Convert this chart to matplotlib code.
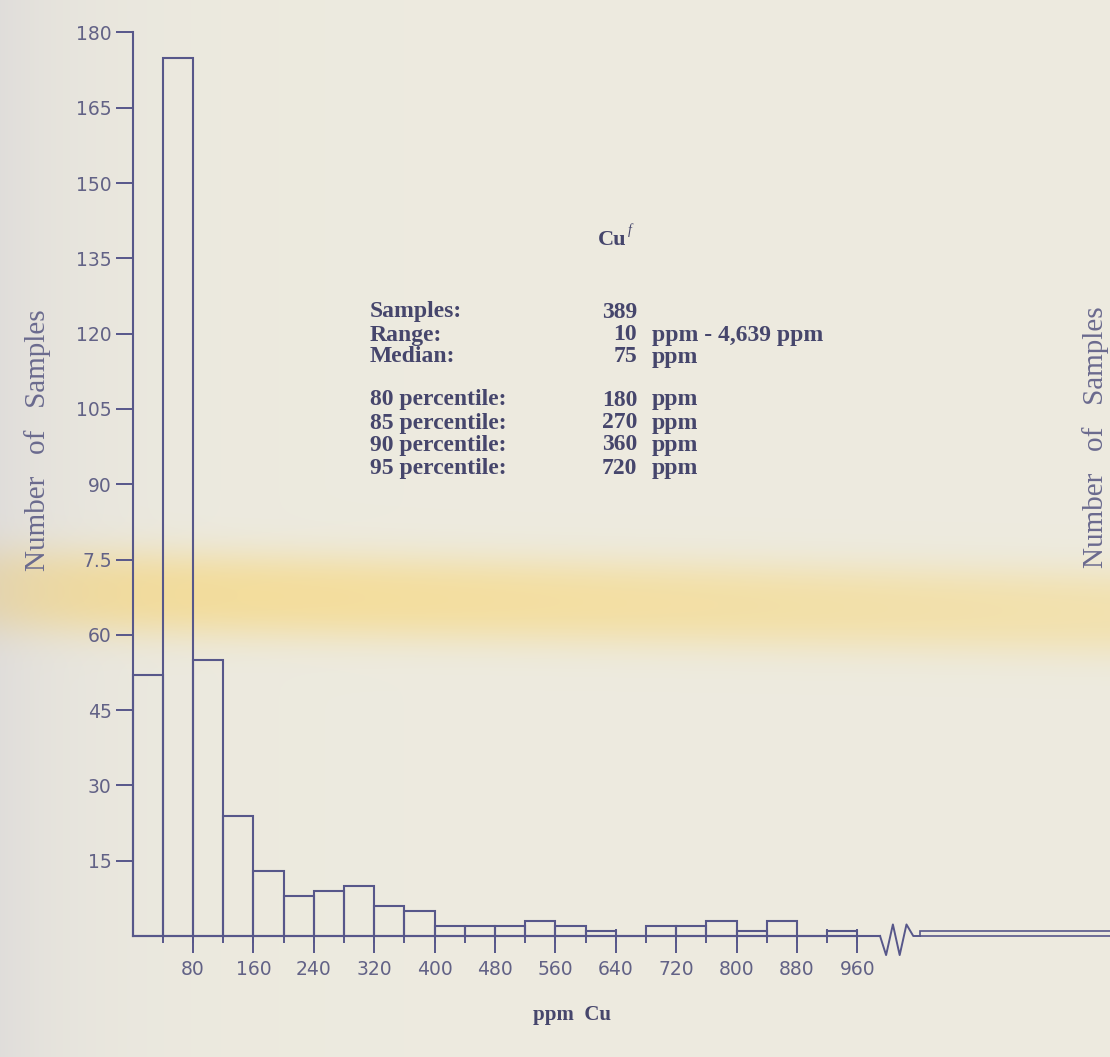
import numpy as np
import matplotlib
matplotlib.use("Agg")
import matplotlib.pyplot as plt

# ---------------- data ----------------
bin_left = list(range(0, 960, 40))          # left edges of 40-ppm bins
counts = [52, 175, 55, 24, 13, 8, 9, 10, 6, 5, 2, 2, 2, 3, 2, 1, 0, 2, 2, 3, 1, 3, 0, 1]
bin_width = 40
tail_left, tail_right, tail_count = 1043, 1300, 1   # values beyond the axis break

y_ticks = [15, 30, 45, 60, 75, 90, 105, 120, 135, 150, 165, 180]
y_labels = ["15", "30", "45", "60", "7.5", "90", "105", "120", "135", "150", "165", "180"]
x_major = [80, 160, 240, 320, 400, 480, 560, 640, 720, 800, 880, 960]
x_labels = [str(v) for v in x_major]
x_minor = list(range(40, 1000, 40))

stat_labels = ["Samples:", "Range:", "Median:", "80 percentile:", "85 percentile:",
               "90 percentile:", "95 percentile:"]
stat_values = ["389", "10", "75", "180", "270", "360", "720"]
stat_units = ["", "ppm - 4,639 ppm", "ppm", "ppm", "ppm", "ppm", "ppm"]

# ---------------- style ----------------
W, H = 1110, 1057
line_c = "#57578a"
tick_c = "#626286"
text_c = "#46466c"
cream = np.array([0.930, 0.920, 0.875])
yellow = np.array([0.965, 0.855, 0.54])
lav = np.array([0.80, 0.79, 0.83])

fig = plt.figure(figsize=(W / 100, H / 100), dpi=100, facecolor=cream)

def fx(px):
    return px / W

def fy(py):
    return 1 - py / H

# background paper with yellow stain band
bg = fig.add_axes([0, 0, 1, 1])
yy, xx = np.mgrid[0:H, 0:W]
centre = 590 + 0.02 * xx
band = np.exp(-np.abs((yy - centre) / 44.0) ** 2.6) * (0.85 - 0.30 * xx / W)
img = cream[None, None, :] * (1 - band[..., None]) + yellow[None, None, :] * band[..., None]
left = 0.40 * np.exp(-xx / 90.0)
img = img * (1 - left[..., None]) + lav[None, None, :] * left[..., None]
bg.imshow(img, aspect="auto", extent=[0, 1, 0, 1], interpolation="bilinear")
bg.set_axis_off()

# main axes mapped so 0 ppm -> x=132.6px, 0 count -> y=936px
ax = fig.add_axes([0, 0, 1, 1], facecolor="none")
sx = 60.4 / 80.0
sy = 5.02
x0p, y0p = 132.6, 936.0
ax.set_xlim(-x0p / sx, (W - x0p) / sx)
ax.set_ylim(-(H - y0p) / sy, y0p / sy)

ax.bar(bin_left, counts, width=bin_width, align="edge", fill=False,
       edgecolor=line_c, linewidth=1.5, zorder=3)
ax.bar(tail_left, tail_count, width=tail_right - tail_left, align="edge", fill=False,
       edgecolor=line_c, linewidth=1.2, zorder=3)

# axis break zig-zag
zig_x = [990, 998, 1007, 1016, 1025, 1034, 1043]
zig_y = [0, -3.8, 2.3, -3.8, 2.3, 0, 0]
ax.plot(zig_x, zig_y, color=line_c, linewidth=1.4, zorder=3)

for s in ("top", "right"):
    ax.spines[s].set_visible(False)
for s in ("left", "bottom"):
    ax.spines[s].set_position(("data", 0))
    ax.spines[s].set_color(line_c)
    ax.spines[s].set_linewidth(1.5)
ax.spines["left"].set_bounds(0, 180)
ax.spines["bottom"].set_bounds(0, 990)

ax.set_yticks(y_ticks, y_labels)
ax.set_xticks(x_major, x_labels)
ax.set_xticks(x_minor, minor=True)
ax.xaxis.remove_overlapping_locs = False
ax.tick_params(axis="y", direction="out", length=12, width=1.4, pad=3,
               color=line_c, labelcolor=tick_c, labelsize=13.5)
ax.tick_params(axis="x", which="major", direction="out", length=12, width=1.4, pad=5,
               color=line_c, labelcolor=tick_c, labelsize=13.5)
ax.tick_params(axis="x", which="minor", direction="inout", length=10, width=1.4,
               color=line_c)

serif = ["Liberation Serif", "DejaVu Serif"]

# title
fig.text(fx(598), fy(240), "Cu", ha="left", va="center", family=serif,
         weight="bold", size=16, color=text_c)
fig.text(fx(628), fy(230), "f", ha="left", va="center", family=serif,
         style="italic", size=10, color=text_c)

# statistics block
row_y = [312, 335, 357, 400, 423, 445, 468]
for lab, val, unit, y in zip(stat_labels, stat_values, stat_units, row_y):
    fig.text(fx(370), fy(y), lab, ha="left", va="center", family=serif,
             weight="bold", size=17, color=text_c)
    fig.text(fx(637), fy(y), val, ha="right", va="center", family=serif,
             weight="bold", size=17, color=text_c)
    if unit:
        fig.text(fx(652), fy(y), unit, ha="left", va="center", family=serif,
                 weight="bold", size=17, color=text_c)

# axis titles
fig.text(fx(572), fy(1015), "ppm  Cu", ha="center", va="center", family=serif,
         weight="bold", size=15, color=text_c)
fig.text(fx(38), fy(440), "Number   of   Samples", ha="center", va="center",
         rotation=90, family=serif, size=21, color="#6a6a8e")
fig.text(fx(1096), fy(437), "Number   of   Samples", ha="center", va="center",
         rotation=90, family=serif, size=21, color="#6a6a8e")

fig.savefig("out.png", dpi=100, facecolor=fig.get_facecolor())
